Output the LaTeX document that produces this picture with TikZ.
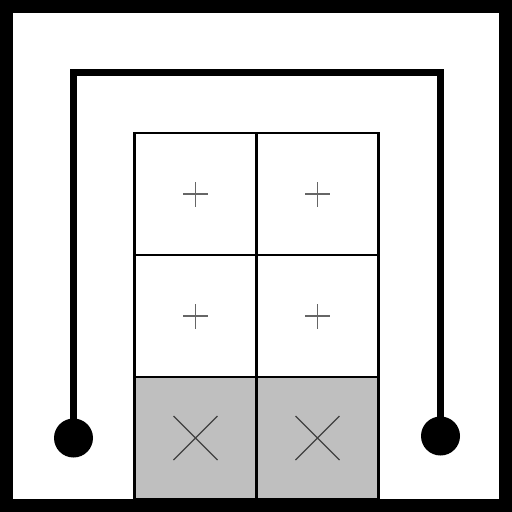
\documentclass[tikz,border=0pt]{standalone}
\usetikzlibrary{positioning}

\tikzset{
  cell/.style={draw, line width=2.2pt, minimum size=122pt, inner sep=0pt},
  shaded/.style={cell, fill=black!25},
  dot/.style={circle, fill=black, minimum size=39pt, inner sep=0pt},
  wire/.style={line width=7pt, line join=miter},
  plusmark/.style={line width=1.3pt, black!60},
  crossmark/.style={line width=1.3pt, black!75}
}

\begin{document}
\begin{tikzpicture}[x=1pt,y=-1pt,node distance=122pt,on grid]
  \useasboundingbox (0,0) rectangle (512,512);
  \fill[white] (0,0) rectangle (512,512);
  % the six cells
  \node[cell] (a1) at (195.5,194) {};
  \node[cell] (b1) [right=of a1] {};
  \node[cell] (a2) [below=of a1] {};
  \node[cell] (b2) [right=of a2] {};
  \node[shaded] (a3) [below=of a2] {};
  \node[shaded] (b3) [right=of a3] {};
  \foreach \c in {a1,b1,a2,b2}
    \draw[plusmark] ([xshift=-12.5pt]\c.center) -- ([xshift=12.5pt]\c.center)
                    ([yshift=-12.5pt]\c.center) -- ([yshift=12.5pt]\c.center);
  \foreach \c in {a3,b3}
    \draw[crossmark] ([shift={(-22pt,-22pt)}]\c.center) -- ([shift={(22pt,22pt)}]\c.center)
                     ([shift={(-22pt,22pt)}]\c.center) -- ([shift={(22pt,-22pt)}]\c.center);
  % wire with its two ends
  \node[dot] (pl) at (73.5,438) {};
  \node[dot] (pr) at (440.5,436) {};
  \coordinate (tl) at (73.5,72.5);
  \coordinate (tr) at (440.5,72.5);
  \draw[wire] (pl.center) -- (tl) -- (tr) -- (pr.center);
  % frame
  \draw[line width=13pt] (6.5,6.5) rectangle (505.5,505.5);
\end{tikzpicture}
\end{document}
